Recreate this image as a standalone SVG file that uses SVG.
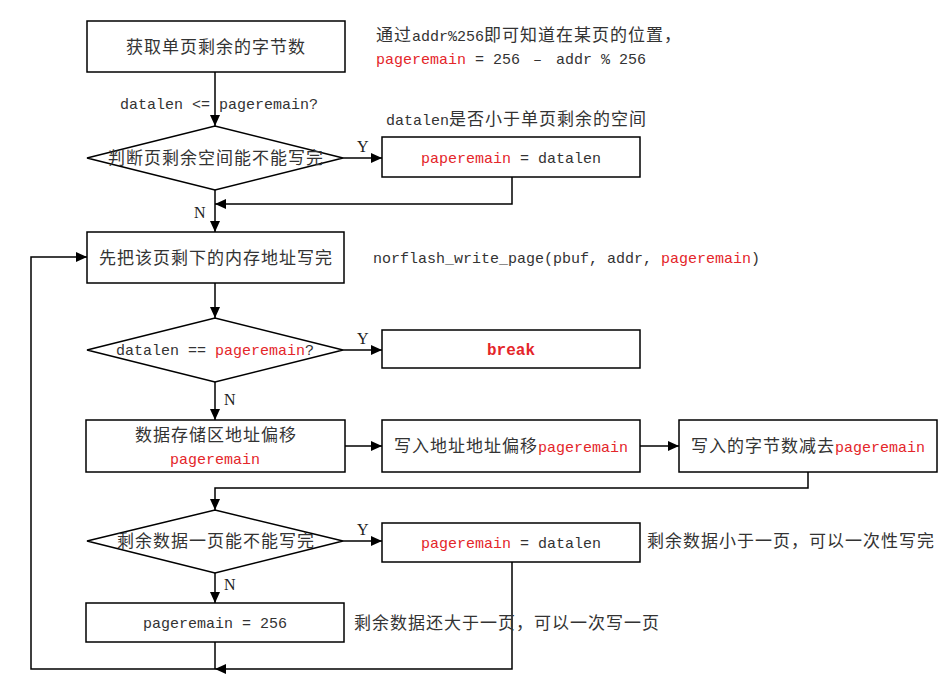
<svg xmlns="http://www.w3.org/2000/svg" width="951" height="685" viewBox="0 0 951 685">
<style>
.box{fill:#fff;stroke:#000;stroke-width:1.5}
.ln{fill:none;stroke:#000;stroke-width:1.5}
text{font-family:"Liberation Mono","Noto Sans CJK SC",monospace;font-size:15px;fill:#333}
.c{font-family:"Noto Sans CJK SC",sans-serif;font-size:17px;letter-spacing:1px}
.r{fill:#e4262a}
.b{font-weight:bold;font-size:16px}
.yn{font-family:"Liberation Serif",serif;font-size:16px;fill:#222}
.m{text-anchor:middle}
</style>
<defs>
<marker id="ah" markerUnits="userSpaceOnUse" markerWidth="11" markerHeight="10" refX="11" refY="5" orient="auto">
<path d="M0,0 L11,5 L0,10 z" fill="#000"/>
</marker>
</defs>
<rect width="951" height="685" fill="#fff"/>
<g id="connectors">
<path class="ln" d="M215,72 V126" marker-end="url(#ah)"/>
<path class="ln" d="M343,158 H382" marker-end="url(#ah)"/>
<path class="ln" d="M512,177 V204 H215" marker-end="url(#ah)"/>
<path class="ln" d="M215,190 V232" marker-end="url(#ah)"/>
<path class="ln" d="M215,283 V318" marker-end="url(#ah)"/>
<path class="ln" d="M343,350 H382" marker-end="url(#ah)"/>
<path class="ln" d="M215,382 V420" marker-end="url(#ah)"/>
<path class="ln" d="M345,446 H382" marker-end="url(#ah)"/>
<path class="ln" d="M640,446 H679" marker-end="url(#ah)"/>
<path class="ln" d="M808,472 V488 H215 V510" marker-end="url(#ah)"/>
<path class="ln" d="M343,541 H382" marker-end="url(#ah)"/>
<path class="ln" d="M215,573 V603" marker-end="url(#ah)"/>
<path class="ln" d="M215,642 V669"/>
<path class="ln" d="M512,562 V669 H215" marker-end="url(#ah)"/>
<path class="ln" d="M215,669 H31 V257 H87" marker-end="url(#ah)"/>
<text class="yn" x="357" y="152">Y</text>
<text class="yn" x="194" y="218">N</text>
<text class="yn" x="357" y="344">Y</text>
<text class="yn" x="224" y="405">N</text>
<text class="yn" x="357" y="535">Y</text>
<text class="yn" x="224" y="590">N</text>
<text x="120" y="109">datalen &lt;= pageremain?</text>
</g>
<g id="notes">
<text x="376" y="41"><tspan class="c">通过</tspan>addr%256<tspan class="c">即可知道在某页的位置，</tspan></text>
<text x="376" y="64"><tspan class="r">pageremain</tspan> = 256 <tspan dx="4">–</tspan><tspan dx="5"> addr % 256</tspan></text>
<text x="386" y="125">datalen<tspan class="c">是否小于单页剩余的空间</tspan></text>
<text x="373" y="263">norflash_write_page(pbuf, addr, <tspan class="r">pageremain</tspan>)</text>
<text x="647" y="547" class="c">剩余数据小于一页，可以一次性写完</text>
<text x="354" y="629" class="c">剩余数据还大于一页，可以一次写一页</text>
</g>
<g id="n1">
<rect class="box" x="87" y="21" width="258" height="51"/>
<text class="c m" x="216" y="53">获取单页剩余的字节数</text>
</g>
<g id="n2">
<polygon class="box" points="87,158 215,126 343,158 215,190"/>
<text class="c m" x="216" y="164">判断页剩余空间能不能写完</text>
</g>
<g id="n3">
<rect class="box" x="382" y="137" width="258" height="40"/>
<text class="m" x="511" y="163"><tspan class="r">paperemain</tspan> = datalen</text>
</g>
<g id="n4">
<rect class="box" x="87" y="232" width="257" height="51"/>
<text class="c m" x="216" y="264">先把该页剩下的内存地址写完</text>
</g>
<g id="n5">
<polygon class="box" points="87,350 215,318 343,350 215,382"/>
<text class="m" x="215" y="355">datalen == <tspan class="r">pageremain</tspan>?</text>
</g>
<g id="n6">
<rect class="box" x="382" y="330" width="258" height="38"/>
<text class="m r b" x="511" y="355">break</text>
</g>
<g id="n7">
<rect class="box" x="86" y="420" width="259" height="52"/>
<text class="c m" x="216" y="441">数据存储区地址偏移</text>
<text class="m r" x="215" y="464">pageremain</text>
</g>
<g id="n8">
<rect class="box" x="382" y="420" width="258" height="52"/>
<text class="m" x="511" y="452"><tspan class="c">写入地址地址偏移</tspan><tspan class="r">pageremain</tspan></text>
</g>
<g id="n9">
<rect class="box" x="679" y="420" width="258" height="52"/>
<text class="m" x="808" y="452"><tspan class="c">写入的字节数减去</tspan><tspan class="r">pageremain</tspan></text>
</g>
<g id="n10">
<polygon class="box" points="87,541 215,510 343,541 215,573"/>
<text class="c m" x="216" y="547">剩余数据一页能不能写完</text>
</g>
<g id="n11">
<rect class="box" x="382" y="523" width="258" height="39"/>
<text class="m" x="511" y="548"><tspan class="r">pageremain</tspan> = datalen</text>
</g>
<g id="n12">
<rect class="box" x="86" y="603" width="258" height="39"/>
<text class="m" x="215" y="628">pageremain = 256</text>
</g>
</svg>
